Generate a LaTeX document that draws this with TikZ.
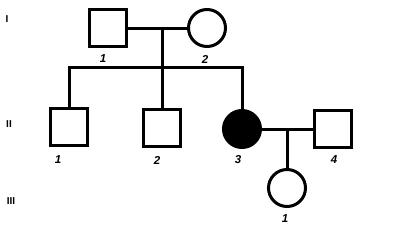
\documentclass[tikz,border=0pt]{standalone}
\usepackage{fontspec}
\setmainfont{Liberation Sans}
\usepackage{tikz}

\tikzset{
    male/.style={draw, line width=3pt, rectangle, minimum size=37pt, inner sep=0pt},
    female/.style={draw, line width=3pt, circle, minimum size=37pt, inner sep=0pt},
    affected/.style={fill=black},
    num/.style={font=\fontsize{11.5}{11.5}\selectfont\bfseries\itshape, inner sep=0pt},
    gen/.style={font=\fontsize{10}{10}\selectfont\bfseries, inner sep=0pt},
    link/.style={line width=3pt}
}

\begin{document}
\begin{tikzpicture}[x=1pt, y=-1pt]
    \useasboundingbox (0, 0) rectangle (414, 233);

    % Generation labels
    \node[gen] (gI) at (7, 19) {I};
    \node[gen] (gII) at (9, 124) {II};
    \node[gen] (gIII) at (11, 201) {III};

    % Generation I
    \node[male] (a1) at (108, 28) {};
    \node[female] (a2) at (207, 28) {};
    \node[num] at (103, 59) {1};
    \node[num] at (205, 59) {2};

    % Generation II
    \node[male] (b1) at (69, 127) {};
    \node[male] (b2) at (162, 128) {};
    \node[female, affected] (b3) at (242, 129) {};
    \node[male] (b4) at (333, 129) {};
    \node[num] at (58, 160) {1};
    \node[num] at (157, 160) {2};
    \node[num] at (238, 160) {3};
    \node[num] at (334, 160) {4};

    % Generation III
    \node[female] (c1) at (287, 188) {};
    \node[num] at (285, 219) {1};

    % Mating lines
    \draw[link] (a1.east) -- (a2.west);
    \draw[link] (b3.east) -- (b4.west);
    \coordinate (m1) at (162, 28);
    \coordinate (m2) at (287, 129);

    % Sibship
    \coordinate (s1) at (162, 67);
    \draw[link] (m1) -- (s1);
    \draw[link] (b1.north) |- (s1) -| (b3.north);
    \draw[link] (s1) -- (b2.north);
    \draw[link] (m2) -- (c1.north);
\end{tikzpicture}
\end{document}
